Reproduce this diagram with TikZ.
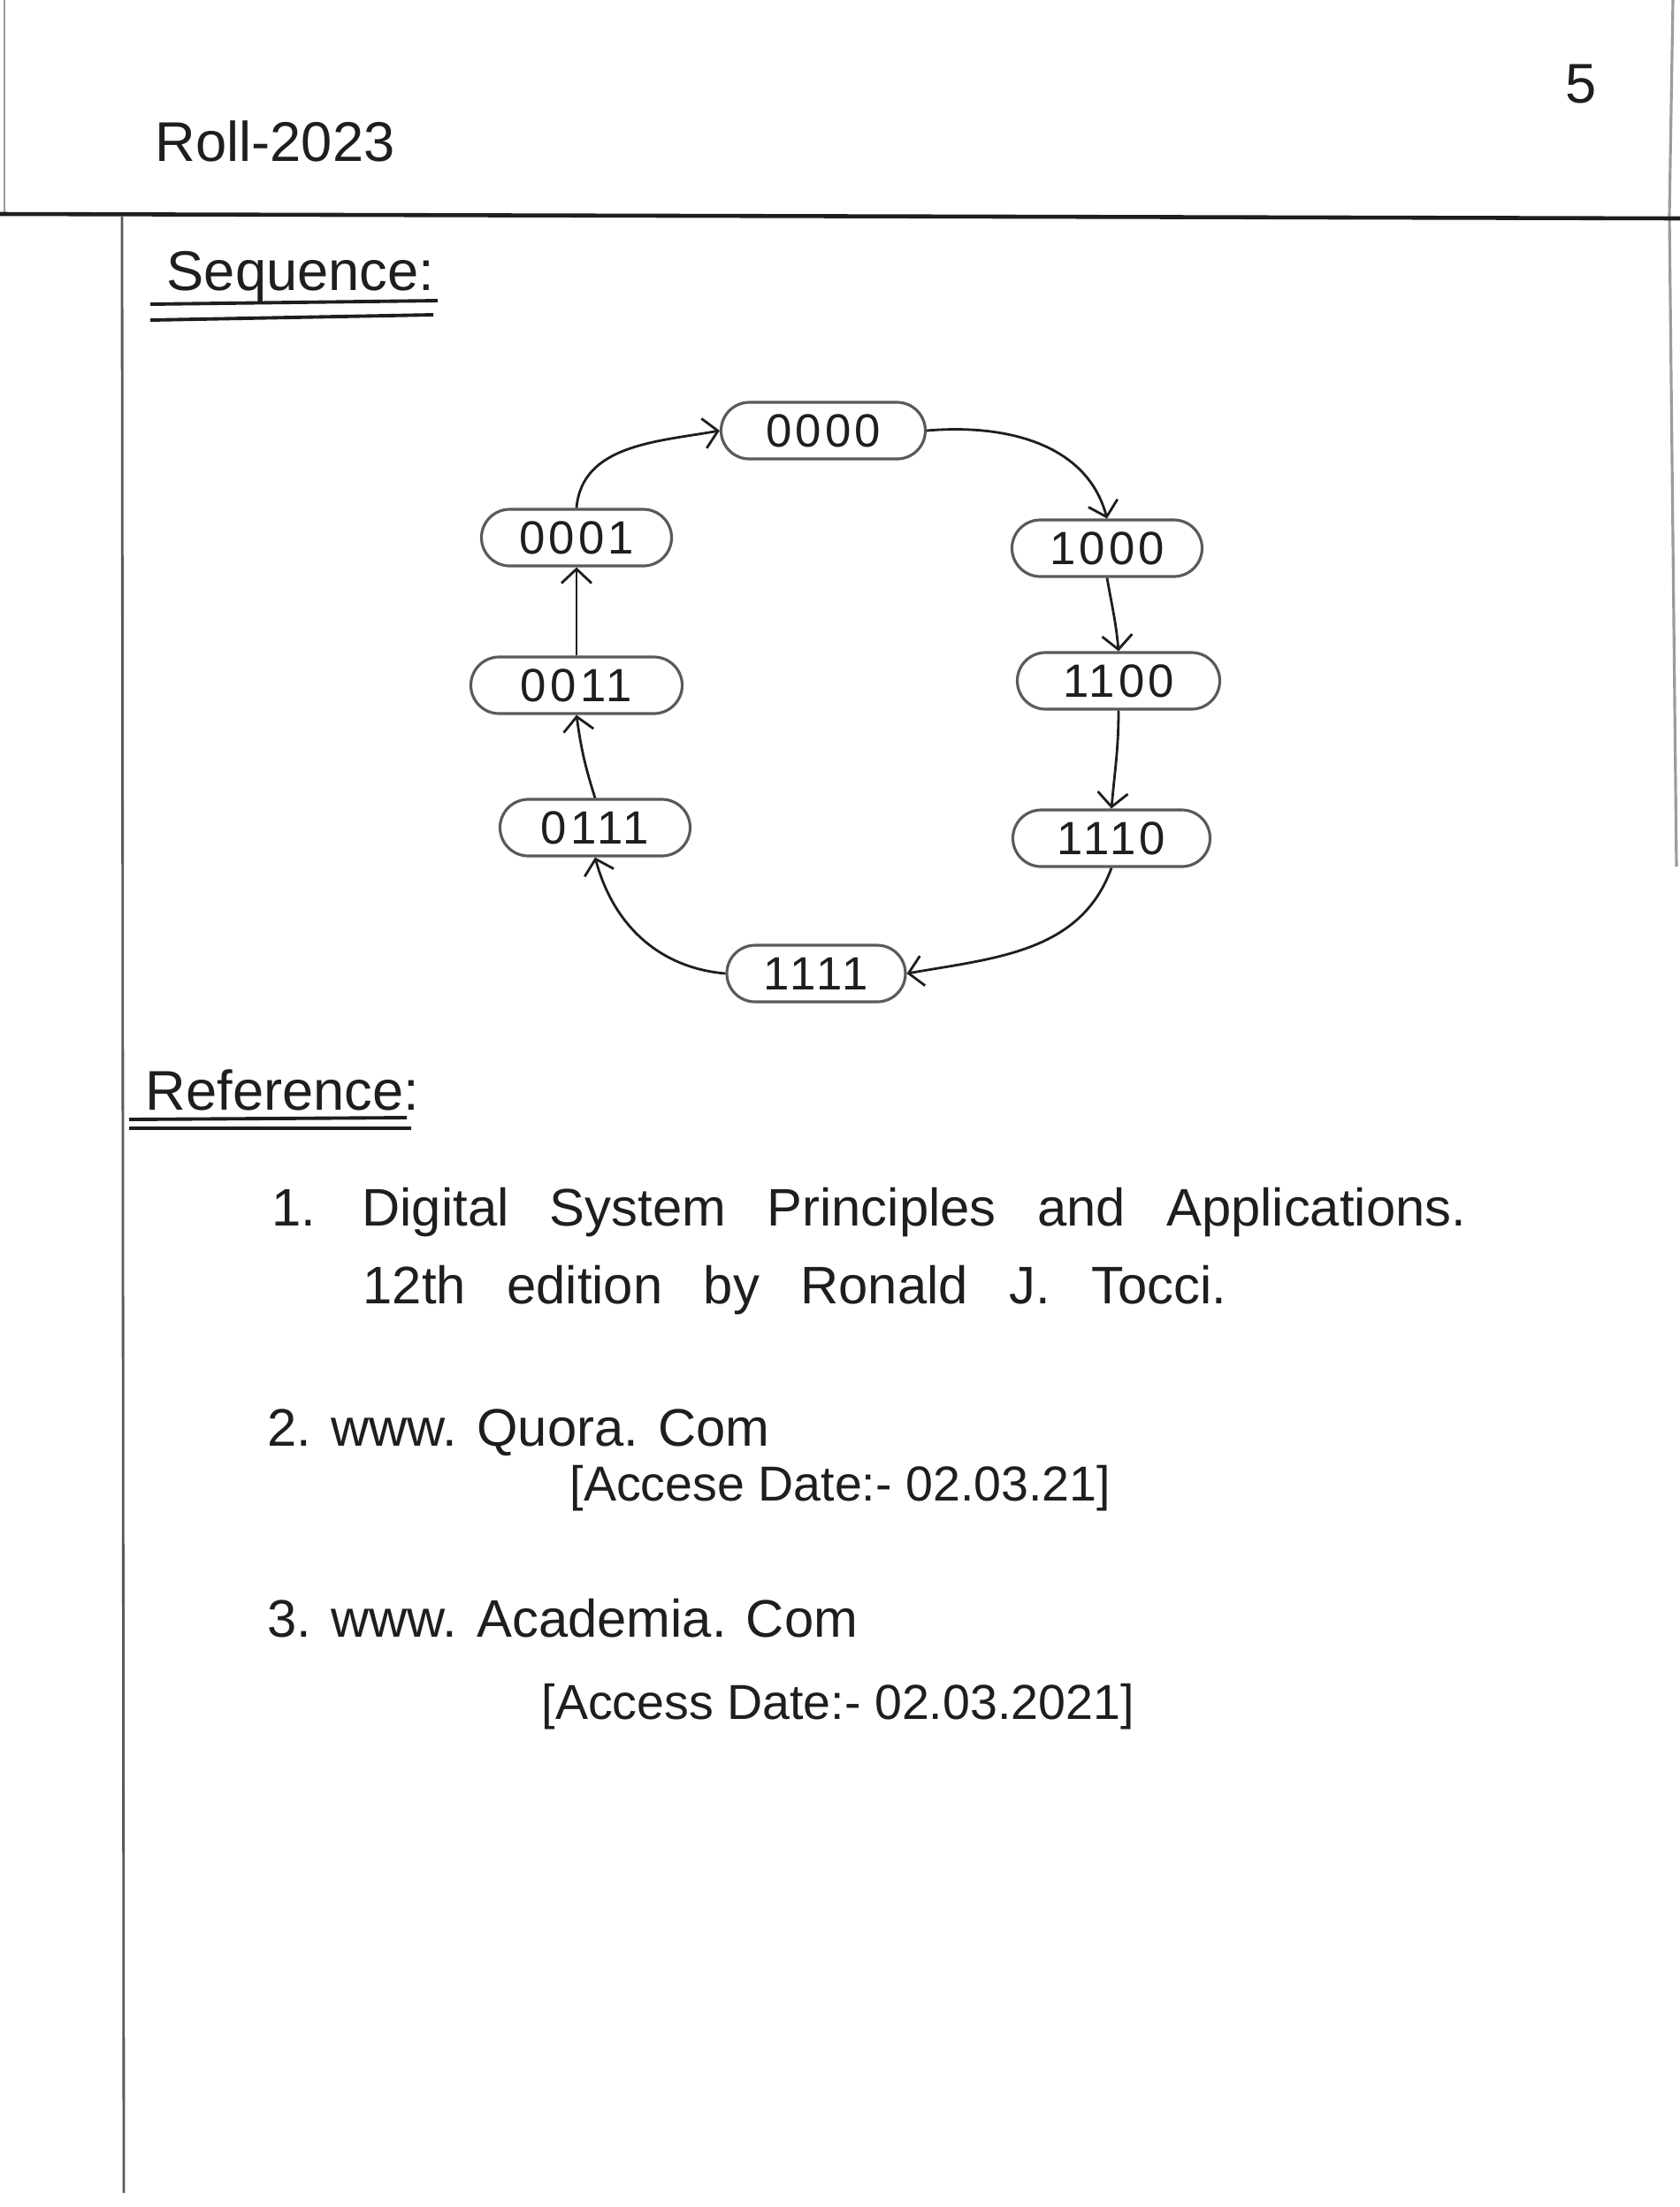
\documentclass[tikz,border=0pt]{standalone}
\usepackage{fontspec}
\setmainfont{Liberation Sans}
\newfontfamily\spacedhand[WordSpace=2.8]{Liberation Sans}
\newfontfamily\digithand[LetterSpace=8]{Liberation Sans}
\usetikzlibrary{calc, shapes, arrows.meta}
\definecolor{ink}{RGB}{30,30,30}
\definecolor{pencil}{RGB}{90,90,90}
\begin{document}
\begin{tikzpicture}[>={Straight Barb[length=1.6mm, width=3.4mm]}]
	\tikzstyle{counter}=[rectangle, draw, pencil, rounded corners=0.32cm,
	line width=0.9pt, text=ink, minimum height=0.64cm, inner sep=2pt,
	font=\fontsize{15}{18}\digithand]
	\tikzstyle{hand} = [text=ink, anchor=west, inner sep=0pt,
	font=\fontsize{17}{20}\selectfont]
	\tikzstyle{bookline} = [hand, font=\fontsize{17}{20}\spacedhand]
	\tikzstyle{datenote} = [hand, font=\fontsize{15.8}{19}\selectfont]
	\tikzstyle{heading} = [hand, font=\fontsize{18}{21}\selectfont]
	\tikzstyle{rule} = [ink, line width=1.1pt]
	
	\useasboundingbox (0,0) rectangle (19,-24.96);
	\fill[white] (0,0) rectangle (19,-24.96);
	
	\draw[pencil!60, line width=0.6pt] (0.05,0) -- (0.05,-2.44);
	\draw[pencil!60, line width=0.9pt] (18.92,0) -- (18.88,-2.44) -- (18.96,-9.8);
	\draw[ink, line width=1.3pt] (0,-2.42) -- (19,-2.47);
	\draw[pencil, line width=0.8pt] (1.38,-2.45) -- (1.40,-24.8);
	
	\node[heading] at (1.75,-1.60) (roll) {Roll-2023};
	\node[heading] at (17.70,-0.95) (page) {5};
	\node[heading] at (1.88,-3.13) (seqtitle) {Sequence:};
	\draw[rule] (1.70,-3.44) -- (4.95,-3.40);
	\draw[rule] (1.70,-3.62) -- (4.90,-3.56);
	
	\node[counter, minimum width=2.31cm] at (9.31,-4.87) (s0000) {0000};
	\node[counter, minimum width=2.15cm] at (6.52,-6.08) (s0001) {0001};
	\node[counter, minimum width=2.15cm] at (12.52,-6.20) (s1000) {1000};
	\node[counter, minimum width=2.39cm] at (6.52,-7.75) (s0011) {0011};
	\node[counter, minimum width=2.29cm] at (12.65,-7.70) (s1100) {1100};
	\node[counter, minimum width=2.15cm] at (6.73,-9.36) (s0111) {0111};
	\node[counter, minimum width=2.23cm] at (12.57,-9.48) (s1110) {1110};
	\node[counter, minimum width=2.02cm] at (9.23,-11.01) (s1111) {1111};
	
	\draw[ink, thick, ->] (s0001.north) to[out=85, in=190] (s0000.west);
	\draw[ink, thick, ->] (s0000.east) to[out=5, in=105] (s1000.north);
	\draw[ink, thick, ->] (s1000.south) to[out=-80, in=95] (s1100.north);
	\draw[ink, thick, ->] (s1100.south) to[out=-90, in=85] (s1110.north);
	\draw[ink, thick, ->] (s1110.south) to[out=-110, in=10] (s1111.east);
	\draw[ink, thick, ->] (s1111.west) to[out=175, in=-75] (s0111.south);
	\draw[ink, thick, ->] (s0111.north) to[bend left=5] (s0011.south);
	\draw[ink, thick, ->] (s0011.north) -- (s0001.south);
	
	\node[heading] at (1.64,-12.33) (reftitle) {Reference:};
	\draw[rule] (1.46,-12.66) -- (4.60,-12.64);
	\draw[rule] (1.46,-12.76) -- (4.65,-12.76);
	
	\node[bookline] at (3.07,-13.71) (ref1) {1. Digital System Principles and Applications.};
	\node[bookline] at (4.10,-14.59) (ref1b) {12th edition by Ronald J. Tocci.};
	\node[hand] at (3.02,-16.20) (ref2) {2. www. Quora. Com};
	\node[datenote] at (6.44,-16.83) (ref2b) {[Accese Date:- 02.03.21]};
	\node[hand] at (3.02,-18.30) (ref3) {3. www. Academia. Com};
	\node[datenote] at (6.12,-19.30) (ref3b) {[Access Date:- 02.03.2021]};
	
	\end{tikzpicture}
\end{document}
